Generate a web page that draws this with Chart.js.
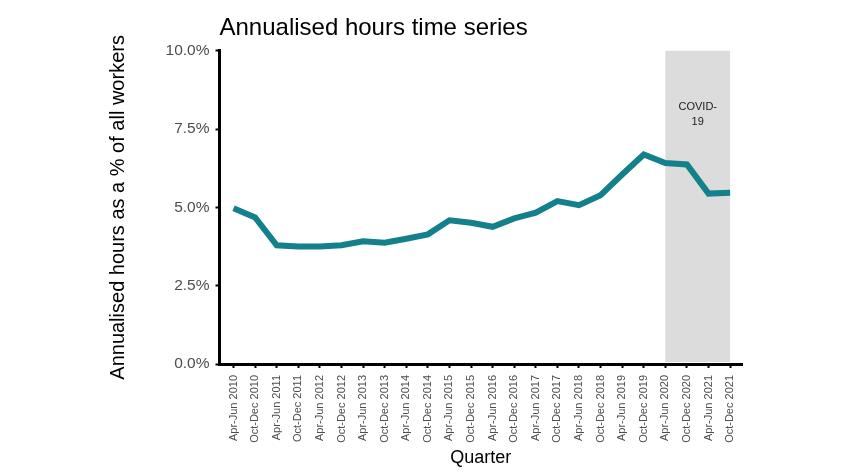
<!DOCTYPE html>
<html>
<head>
<meta charset="utf-8">
<script src="https://cdn.jsdelivr.net/npm/chart.js@4/dist/chart.umd.min.js"></script>
<style>
  html, body { margin: 0; padding: 0; background: #fff; }
  #wrap { width: 844px; height: 475px; }
</style>
</head>
<body>
<div id="wrap"><canvas id="chart" width="844" height="475"></canvas></div>
<script>
// quarters on the x axis
let quarters = [
	"Apr-Jun 2010", "Oct-Dec 2010", "Apr-Jun 2011", "Oct-Dec 2011",
	"Apr-Jun 2012", "Oct-Dec 2012", "Apr-Jun 2013", "Oct-Dec 2013",
	"Apr-Jun 2014", "Oct-Dec 2014", "Apr-Jun 2015", "Oct-Dec 2015",
	"Apr-Jun 2016", "Oct-Dec 2016", "Apr-Jun 2017", "Oct-Dec 2017",
	"Apr-Jun 2018", "Oct-Dec 2018", "Apr-Jun 2019", "Oct-Dec 2019",
	"Apr-Jun 2020", "Oct-Dec 2020", "Apr-Jun 2021", "Oct-Dec 2021"
];
// annualised hours, % of all workers
let hoursPct = [
	4.97, 4.68, 3.79, 3.75, 3.75, 3.79, 3.92, 3.87,
	4.00, 4.14, 4.59, 4.51, 4.38, 4.65, 4.83, 5.20,
	5.07, 5.39, 6.05, 6.69, 6.42, 6.37, 5.44, 5.47
];
let yTicks = [0, 2.5, 5, 7.5, 10];
let covidStart = "Apr-Jun 2020";
let covidEnd = "Oct-Dec 2021";
let covidLabel = ["COVID-", "19"];

let points = hoursPct.map((v, i) => ({x: i, y: v}));

// grey covid band + label, drawn under the line
let covidBand = {
	id: "covidBand",
	beforeDatasetsDraw(chart){
		let ctx = chart.ctx;
		let xs = chart.scales.x, ys = chart.scales.y;
		let x0 = xs.getPixelForValue(quarters.indexOf(covidStart));
		let x1 = xs.getPixelForValue(quarters.indexOf(covidEnd));
		let top = ys.getPixelForValue(10);
		let bottom = ys.getPixelForValue(0) - 2;
		ctx.save();
		ctx.fillStyle = "#dcdcdc";
		ctx.fillRect(x0, top, x1 - x0, bottom - top);
		ctx.fillStyle = "#1a1a1a";
		ctx.font = "11px 'Liberation Sans', Arial, sans-serif";
		ctx.textAlign = "center";
		ctx.textBaseline = "middle";
		let cx = (x0 + x1) / 2;
		for(let i = 0; i < covidLabel.length; i++){
			ctx.fillText(covidLabel[i], cx, top + 56 + i * 15);
		}
		ctx.restore();
	}
};

let font = "'Liberation Sans', Arial, sans-serif";

new Chart(document.getElementById("chart"), {
	type: "line",
	data: {
		datasets: [{
			data: points,
			borderColor: "#13808b",
			borderWidth: 6,
			pointRadius: 0,
			tension: 0,
			fill: false
		}]
	},
	plugins: [covidBand],
	options: {
		responsive: false,
		animation: false,
		layout: {padding: {left: 106, right: 102, top: 0, bottom: 6}},
		plugins: {
			legend: {display: false},
			tooltip: {enabled: false},
			title: {
				display: true,
				text: "Annualised hours time series",
				align: "start",
				fullSize: false,
				color: "#000",
				font: {family: font, size: 24, weight: "normal"},
				padding: {top: 14, bottom: 8}
			}
		},
		scales: {
			x: {
				type: "linear",
				min: -0.65,
				max: 23.55,
				afterBuildTicks(scale){
					scale.ticks = quarters.map((q, i) => ({value: i}));
				},
				afterFit(scale){ scale.height = 105; },
				ticks: {
					autoSkip: false,
					maxRotation: 90,
					minRotation: 90,
					padding: 7,
					color: "#4d4d4d",
					font: {family: font, size: 11},
					callback: (v) => quarters[v]
				},
				grid: {
					display: true,
					drawOnChartArea: false,
					drawTicks: true,
					tickLength: 4,
					tickWidth: 2,
					tickColor: "#000"
				},
				border: {display: true, color: "#000", width: 3},
				title: {
					display: true,
					text: "Quarter",
					color: "#000",
					font: {family: font, size: 18},
					padding: 0
				}
			},
			y: {
				min: 0,
				max: 10,
				afterBuildTicks(scale){
					scale.ticks = yTicks.map(v => ({value: v}));
				},
				afterFit(scale){ scale.width = 113.5; },
				ticks: {
					padding: 6,
					color: "#4d4d4d",
					font: {family: font, size: 15.5},
					callback: (v) => v.toFixed(1) + "%"
				},
				grid: {
					display: true,
					drawOnChartArea: false,
					drawTicks: true,
					tickLength: 4,
					tickWidth: 2,
					tickColor: "#000"
				},
				border: {display: true, color: "#000", width: 3},
				title: {
					display: true,
					text: "Annualised hours as a % of all workers",
					color: "#000",
					font: {family: font, size: 20},
					padding: 0
				}
			}
		}
	}
});
</script>
</body>
</html>
